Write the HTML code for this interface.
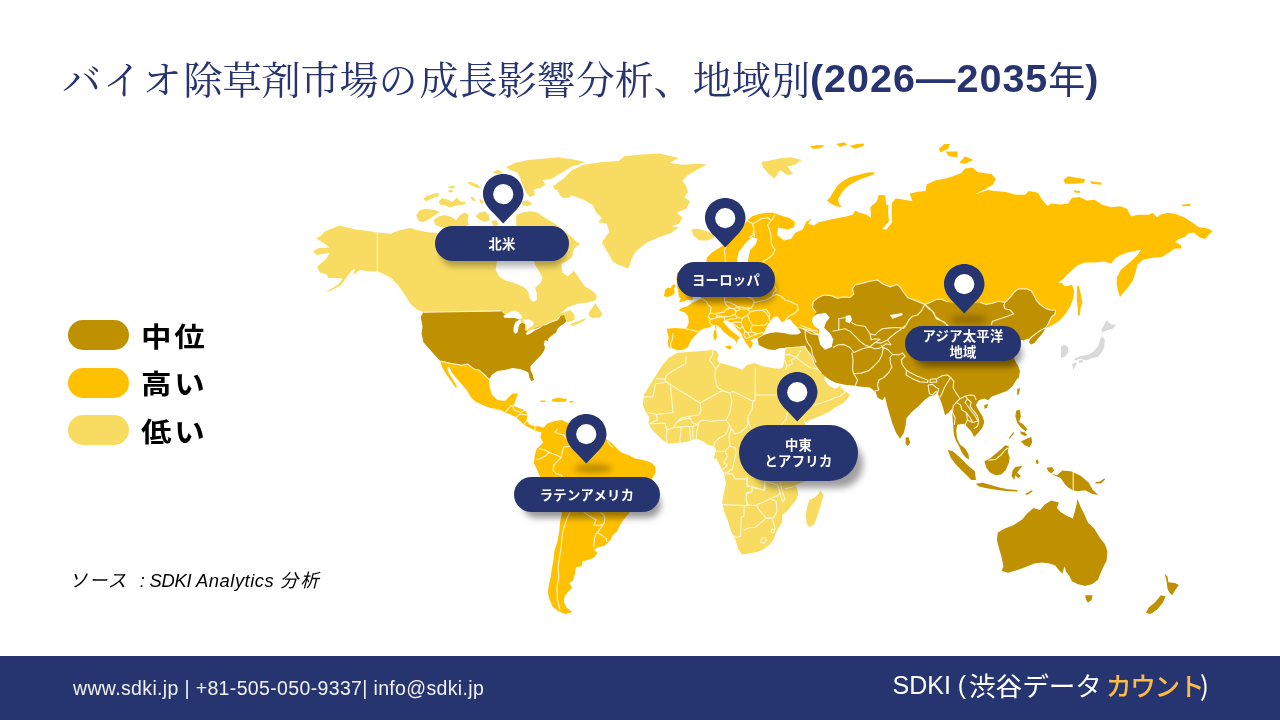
<!DOCTYPE html>
<html lang="ja"><head><meta charset="utf-8"><title>バイオ除草剤市場</title>
<style>
html,body{margin:0;padding:0;background:#fff}
body{width:1280px;height:720px;position:relative;overflow:hidden;font-family:"Liberation Sans","Noto Sans CJK JP",sans-serif}
.map{position:absolute;left:0;top:0}
.title{position:absolute;left:62px;top:52px;margin:0;white-space:nowrap;color:#27346F;font-weight:400;font-size:39.05px;line-height:52px;font-family:"Liberation Serif","Noto Serif CJK JP","Noto Serif CJK SC",serif;letter-spacing:0}
.title b{font-family:"Liberation Sans",sans-serif;font-weight:700;font-size:39.5px;letter-spacing:1px;position:relative;top:-2px}
.title u{text-decoration:none;letter-spacing:1.8px}
.title b i{position:relative;top:1.5px;font-style:normal;font-family:"Noto Sans CJK JP",sans-serif;font-weight:400;font-size:37px;letter-spacing:0}
.lg{position:absolute;left:68px;width:61px;height:30px;border-radius:15px}
.lt{position:absolute;left:141px;font-family:"Noto Sans CJK JP",sans-serif;font-weight:700;font-size:29.6px;line-height:40px;letter-spacing:2.6px;color:#000;transform:scale(1.03,.94);transform-origin:0 0;white-space:nowrap}
.src{position:absolute;left:69px;top:568px;font-size:18.4px;letter-spacing:.78px;line-height:26px;font-style:italic;color:#000;white-space:nowrap;font-family:"Liberation Sans","Noto Sans CJK JP",sans-serif}
.foot{position:absolute;left:0;top:656px;width:1280px;height:64px;background:#263470}
.f1{position:absolute;left:73px;top:19px;color:#F2F2F2;font-size:19.5px;letter-spacing:.35px;line-height:26px;white-space:nowrap}
.f2{position:absolute;left:892.5px;top:11.5px;color:#fff;font-size:25px;line-height:34px;white-space:nowrap;font-family:"Liberation Sans","Noto Sans CJK JP",sans-serif}
.f2 span{position:absolute;top:0}
.f2 .c{font-family:"Noto Sans CJK JP",sans-serif;font-size:26.6px}
.f2 .o{color:#FDBB46;font-size:25.6px;font-weight:500;letter-spacing:-1.3px;top:.5px}
.pill{position:absolute;background:#263470;color:#fff;border-radius:28px;font-family:"Noto Sans CJK JP",sans-serif;font-weight:700;font-size:13.3px;line-height:16px;text-align:center;display:flex;align-items:center;justify-content:center;box-shadow:5px 10px 6px -4px rgba(0,0,0,.4);white-space:nowrap;letter-spacing:.3px}
.pin{position:absolute;overflow:visible}
.psh{position:absolute;width:38px;height:9px;border-radius:50%;background:rgba(70,45,0,.36);filter:blur(3px)}
</style></head><body>
<svg class="map" width="1280" height="720" viewBox="0 0 1280 720">
<path fill="#F8DC62" d="M376.9,232.5 370,231.2 356.2,229.4 347.5,227.5 339.4,225.6 331.2,228.8 325,231.2 321.2,235.6 316.2,238.5 321.9,241.9 326.9,245.6 329.4,247.5 318.8,248.1 313.1,251.2 316.2,255 324.4,253.8 329.4,253.1 326.9,258.1 322.5,261.9 316.9,266.9 320,272.5 326.9,274.4 328.1,278.1 336.2,278.1 342.5,278.8 338.8,283.8 331.2,288.8 325,292.5 332.5,290 341.2,285 346.2,278.1 351.9,270.6 355,268.8 353.1,275 360,270 367.5,271.2 377.5,271.5Z M377.5,232.5 390.6,233.8 400,230 410,228 417,230 426,232 436,233 450,236 500,238 560,240 568.8,237.5 580,243.8 573.8,248.8 572.5,255 571.2,258 566.2,261.2 561.2,263.8 562.5,272.5 567.5,276.2 572.5,272.5 573.8,270.6 576.9,275 581.2,281.2 585,286.2 591.2,290 595.6,293.8 596.9,297.5 595,300.6 587.5,302.5 577.5,303.8 567.5,307.5 560,313.8 565,311.9 570,310 573.8,313.8 575,318.8 572.5,321.2 567.5,321.9 566.2,321.2 563.8,315.6 560,316.2 557.5,319.7 550,322.5 544.4,325.3 535,328.1 529.4,332.8 524.7,330 525.6,324.4 521.9,322.5 520,319.7 512.5,316.9 504,314 501.2,310.9 423.4,312.2 416.9,309.4 410.3,303.8 404.7,294.4 398.1,285 390.6,277.5 381.2,272.8 377.5,271.9Z"/>
<path fill="#FFFFFF" d="M497.5,258 495.6,270 499.4,276.6 505,280.3 514.4,283.1 523.8,286.9 528.4,291.6 529.4,298.1 533.1,301.9 536.9,300 536.9,293.4 535,287.8 540.6,283.1 542.5,277.5 538.8,270.9 535,264.4 533.1,258Z"/>
<path fill="#F8DC62" d="M588.8,312.5 592.5,307.5 595.6,303.1 598.1,307.5 602.5,313.8 600,317.5 592.5,318.1 588.8,316.2Z"/>
<path fill="#BF9000" d="M423.4,312.2 501.2,310.9 504.1,314.1 512.5,316.9 520,319.7 515.3,324.4 514.4,331.9 518.1,325.3 521.9,322.5 525.6,324.4 524.7,330 529.4,332.8 535,328.1 544.4,325.3 550,322.5 557.5,319.7 560.3,315.9 564.1,315 566.2,321.2 563.8,323.8 560,326.2 557.5,328.8 556.2,332.5 552.5,335 548.8,338.1 547.5,341.2 545,340 543.8,343.8 545,347.5 543.8,351.2 541.2,355 537.5,358.8 533.8,362.5 530.5,366.2 530.5,370 532.8,375 534,380 531.2,381.2 529.4,377.5 528.4,372.8 525.6,370.9 520,369.1 512.5,368.1 505,370 497.5,370.9 491.9,374.7 489.1,379.4 484.4,374.7 478.8,370 474.1,369.1 467.5,364 461.9,365.3 450.6,363.4 440.3,361 434.7,355 428.1,347.5 423.4,342.2 421.6,333.8 422.5,326.2 420.6,316.9Z"/>
<path fill="#FFC000" d="M440.3,361 450.6,363.4 461.9,365.3 467.5,364 474.1,369.1 478.8,370 484.4,374.7 489.1,379.4 489.6,386.9 491.9,394.4 497.5,400 505,400.9 509.7,396.3 512.5,393.4 518.1,393.4 516.3,398.1 514.4,403.8 512.5,405.6 520,408.4 525.6,410.3 527.5,415 526.6,420.6 529.4,424.4 535,426.3 538.8,426.3 542.5,427.2 545.3,429.1 540.6,432.3 535,430.4 529.4,427.8 523.8,424.8 520,421 516.3,417.3 510.6,414.4 505,412.6 502.2,410.7 495.6,408.8 490,407.9 482.5,405.1 475,401.3 470.3,396.6 467.5,391 461.9,384.4 456.3,377.9 451.6,372.3 449.1,366.3 446.9,368.1 449.7,374.7 453.4,380.3 457.2,386.9 455.3,387.3 450.6,380.3 445.9,373.8 442.2,367.2Z M551.9,399.6 557.5,397.8 566.9,399.1 565.9,401.5 557.5,401.9 552.3,401.5Z M540.6,400.4 545.3,400.4 545.3,401.9 540.6,401.9Z M569.7,400.9 573.4,400.9 573.4,402.4 569.7,402.4Z M542.2,429.4 546.9,423.8 554.4,420.9 561.9,420 567.5,422.8 580,424 595,428 603,436 606.9,439.7 612.5,443.4 617.2,449.1 621.9,452.8 629.4,455.6 635,458.4 644.4,460.3 651.9,463.1 655.6,466.9 655.6,472.5 652.8,477.2 648,488 643,497 638,505 629.4,512.8 623.8,519.4 620,525 617.2,531.6 612.5,535.3 610.6,540 605,545.6 597.5,547.5 593.8,549.4 597.5,553.1 593.8,557.8 588.1,559.7 582.5,561.6 581.6,566.2 575.9,567.2 575,573.8 573.1,580.3 569.4,583.1 572.2,587.8 568.4,591.6 564.7,596.2 563.8,601.9 566.6,607.5 572.2,612.2 565.6,614.1 558.1,611.2 552.5,606.6 549.7,600 547.8,592.5 548.8,585 550.6,577.5 551.6,570 553.4,560.6 554.4,551.2 557.2,541.9 559.1,532.5 560,523.1 561.9,512.8 555,502 548,492 543,482 540.3,477.2 536.6,468.8 533.8,463.1 534.7,455.6 536.6,449.1 543.1,442.5 540.3,436.9Z"/>
<path fill="#F8DC62" d="M553.1,186.3 564.4,177.8 571.9,170.3 583.1,164.7 601.9,161.9 618.8,160.9 624.4,156.3 641.3,154.4 660,153.4 678.8,158.1 669.4,162.8 682.5,164.7 699.4,163.8 706.9,164.7 697.5,169.4 688.1,175 682.5,180.6 686.3,186.3 688.1,191.9 684.4,197.5 690,201.3 686.3,208.8 676.9,212.5 682.5,218.1 678.8,223.8 671.3,226.6 678.8,227.5 671.3,233.1 660,236.9 646.9,242.5 637.5,250 630,259.4 633.8,255 631.2,260 630,265 627.5,268.8 622.5,266.2 617.5,264.4 612.5,261.2 610,256.2 606.2,250 603.8,245 601.9,238.8 604.7,251.9 601.9,242.5 605.6,236.9 609.4,231.3 606.6,223.8 598.1,221.9 601.9,218.1 596.3,212.5 592.5,205 583.1,199.4 571.9,195.6 560.6,195.6 556.9,190Z M506.2,166.9 516.2,162.5 528.8,160 541.2,158.8 553.8,158.1 570,158.8 576.2,160 585,161.9 577.5,165 570,166.9 563.8,168.1 557.5,171.9 550,176.2 542.5,180 545,183.8 540,187.5 533.8,190 535,195 530,196.9 526.2,192.5 522.5,185 520,177.5 517.5,172.5 510,170Z M492.5,172.5 497.5,169.4 502.5,172.5 497.5,174.4Z M466.9,182.5 471.2,181.9 477.5,184.4 481.2,188.1 477.5,188.1 471.2,185.6Z M447.5,186.9 453.1,185.6 455.6,187.5 451.2,188.8Z M448.1,190.6 452.5,190 453.1,191.9 448.8,192.5Z M423.1,198.8 427.5,195.6 433.8,193.8 439.4,193.1 438.1,196.2 432.5,198.1 426.2,201.2Z M438.8,201.2 442.5,198.1 447.5,199.4 452.5,201.9 456.9,197.5 460,201.2 465.6,201.9 465,204.4 457.5,205 450,207.5 445,205.6 440,204.4Z M470,196.9 473.8,197.5 476.2,201.2 472.5,200.6Z M479.4,198.8 483.8,201.2 483.1,204.4 480,202.5Z M416.2,215 420,210 426.2,208.8 435,210 440,211.9 435,215 430,218.8 423.8,221.9 418.8,221.2Z M433.8,220 438.8,216.2 445,215 451.2,216.9 456.2,220 460,215 465,212.5 468.8,215 467.5,220 468.8,225 460,227.5 451.2,227.5 441.2,227.5 435,224.4Z M475.6,216.2 480,212.5 485,211.2 488.8,215 490,220 485,221.9 480,220Z M491.2,221.2 496.2,220 498.8,225 493.8,226.2Z M516.2,215 522.5,212.5 530,211.2 537.5,212.5 542.5,216.2 548.8,220 555,223.8 560,227.5 566.2,232.5 572.5,237.5 577.5,243.8 570,247.5 560,240 547.5,235 522.5,232.5 516.2,227.5Z M552.5,186.2 560,182.5 570,181.2 576.2,183.1 572.5,190 570,197.5 563.8,198.1 558.8,195 563.8,191.2 555,189.4Z M521.2,201.2 527.5,200.6 532.5,203.8 527.5,206.2 522.5,205Z M540,159.1 558.8,157.2 579.4,160.9 571.9,166.6 562.5,172.2 551.3,178.8 540,180.6 534.4,176.9 534.4,161.9Z M538.1,182.5 545.6,184.4 540,188.5 536.2,187.2Z"/>
<path fill="#FFFFFF" d="M503.1,316.2 507.5,313.1 513.8,310.6 518.8,312.5 522.5,316.9 520,319.4 515,318.1 510,318.1 505,318.1Z M513.8,326.2 515.6,321.9 518.8,320 521.2,321.2 518.8,326.2 517.5,332.5 515,333.8 513.5,331.2Z M522.5,319.4 528.8,319.4 533.8,321.9 532.5,326.2 529.4,327.5 526.9,330 526.2,325.6 524.4,322.5Z M525.6,333.1 530,330.6 535,328.8 538.8,327.5 543.8,325.6 540,328.1 535,330.6 530,333.8 526.9,335Z"/>
<path fill="#F8DC62" d="M570,324.4 575,321.9 580,320.6 585.6,318.1 585,320 578.8,323.8 572.5,326.2Z"/>
<path fill="#FFC000" d="M668.8,347.5 667.5,342.5 668.8,337.5 667.5,333.1 666.9,328.8 675,328.1 685,328.8 686.2,328.8 688.8,322.5 688.1,316.2 685,312.5 678.8,310.6 681.2,308.1 687.5,306.2 692.5,302.5 697.5,300.6 701.2,298.8 700,290 704,280 707,272 706,265 706.9,257.5 712.5,251.9 721.9,246.2 735,236.9 740.6,229.4 746.2,221.9 751.9,216.2 761.2,213.4 772.5,212.5 780,215.3 789.4,218.1 795,221.9 794,227.5 787.5,229.4 778.1,227.5 777.2,235 783.8,240.6 791.2,238.8 795,233.1 802.5,229.4 806.2,221.9 811.9,218.1 808.1,223.8 813.8,225.6 819.4,221.9 828.8,220 838.1,218.1 847.5,216.2 853.1,214.4 855,210.6 858.8,212.5 866.2,214.4 871.2,218.1 870.3,206.9 876.9,201.2 878.8,194.7 885.3,195.6 886.2,205 890.9,204.1 895.6,198.4 903.1,199.4 912.5,201.2 909.7,193.8 916.2,191.9 925.6,190.9 926.6,184.4 935,180.6 944.4,178.8 953.8,175.9 961.2,173.1 965,168.4 972.5,167.5 978.1,172.2 991.2,174.1 995.9,178.8 993.1,184.4 985.6,189.1 978.1,192.8 974.4,194.7 987.5,190 995,190.9 1006.2,191.9 1015.6,194.7 1025,194.7 1028.8,190.9 1038.1,192.8 1041.9,199.4 1047.5,205.9 1051.2,203.4 1060.6,204.4 1068.1,203.4 1071.9,197.8 1079.4,196.9 1086.9,200.6 1094.4,199.7 1101.9,204.4 1111.2,207.2 1120.6,206.2 1127.2,209.1 1130,214.7 1131.9,216.6 1137.5,214.7 1148.8,214.7 1152.5,212.8 1157.2,217.5 1160,214.7 1167.5,212.8 1175,213.8 1184.4,217.5 1191.9,222.2 1198.4,226.9 1203.1,227.8 1208.8,228.8 1212.5,231.6 1208.8,234.4 1205,239.1 1199.4,237.2 1193.8,232.5 1188.1,233.4 1184.4,237.2 1178.8,239.1 1175,241.9 1180.6,244.7 1181.6,248.4 1175,248.4 1169.4,252.2 1161.9,256.9 1152.5,257.8 1143.1,259.7 1137.5,264.4 1135.6,271.9 1133.1,280 1129.4,285.6 1124.7,291.2 1120,296.9 1118.1,291.2 1116.6,284 1116.9,277.5 1120.6,270 1126.2,265.3 1131.9,260.6 1137.5,255 1141.2,249.4 1133.8,251.2 1128.1,252.2 1120.6,255 1115,258.8 1111.2,263.4 1103.8,261.6 1094.4,262.5 1085,262.5 1077.5,265.3 1070,271.9 1062.5,279.4 1058.1,282.8 1061.9,282.8 1064.7,286.6 1072.2,284.7 1074.1,291.2 1073.1,298.8 1070.3,306.2 1065.6,313.8 1060,320 1055,323.8 1050,326.2 1045,328.8 1040,322 1030,310 1000,312 960,314 900,312 860,305 835,312 822,345 797.5,327.5 796.2,326.2 792.5,322.5 790,318.8 785,320.6 781.9,322.5 780,319.4 777.5,316.2 773.8,316.9 770,321.2 766.2,327.5 763.8,333.8 760,336.2 758.8,337.5 756.2,338.2 752.8,339 750.2,340.2 752.8,342.5 752,346.2 750.2,349 747.5,345 745,341.2 742.8,337.5 741,333.1 737.5,329.4 733.8,325.6 730.6,322.5 728.1,321.2 725,320.4 723.1,321.5 726,325.2 729.4,329 733.1,332.2 736.9,335 740.2,338.1 738.1,339 737.2,341.9 735.6,345.2 736.5,341.9 733.8,339 728.8,336 723.8,331.9 720,327.5 716.2,324.8 712.5,325.6 710,326.9 706.2,328.1 701.2,329.4 698.8,331.9 694.4,336.2 691.2,340 689.4,343.8 687.5,347.5 683.8,349.4 677.5,350.6 673.8,348.8Z M678.5,293 677,287 676.5,279 677,273 680,271 684,276 685,283 690,290 693.5,296 692.5,300 686.7,300 683.3,301.7 679.2,302 680.8,298.8 678.8,296.7Z M663.8,296.2 665.4,289.2 667.9,287.5 670.8,287.9 672.5,285 675,284.2 675.8,286.2 674.2,288.3 674.6,293.3 671.7,295.4 667.9,297.1Z M826.9,200.6 830,197.5 833.8,191.2 837.5,185.6 842.5,181.2 850,176.9 860,174.4 867.5,172.5 875,172.2 872.5,175 865,177.5 857.5,180.6 850,184.4 845,188.8 841.2,193.8 838.1,198.8 838.8,203.8 841.9,206.9 836.2,206.2 831.2,203.8Z M810,146.5 817.5,145 825,145.4 819.4,148.4 812.8,148.8Z M836.3,144.1 843.8,142.2 847.5,144.6 840,146.9Z M849.4,145.9 856.9,144.1 864.4,143.5 863.5,145.9 855,148.8Z M938.8,148.8 944.4,144.1 950,144.1 948.1,148.8 940.6,152.5Z M945.3,151.6 957.5,151.6 957.5,157.2 949.1,156.3Z M959.4,162.8 965,156.3 973.4,160 965,163.8Z M1063.4,180 1068.1,176.3 1077.5,178.1 1085,179.1 1084.1,182.8 1073.8,183.8 1065.3,183.8Z M1089.7,180.9 1101.9,182.8 1100.9,184.7 1091.6,183.8Z M1073.8,190.3 1080.3,191.3 1079.4,193.1 1074.7,192.4Z M1181.6,204.8 1190,203.8 1190.9,205.7 1182.5,206.3Z M1076.9,286.6 1078.8,285.6 1080.6,293.1 1082.5,302.5 1080.6,308.1 1079.7,315.6 1077.8,315.6 1077.8,308.1 1076.9,300.6Z"/>
<path fill="#F8DC62" d="M761.3,161.9 772.5,160 781.9,158.1 791.3,157.2 801.6,160 795,164.7 787.5,166.6 793.1,174.1 787.5,175 780,170.3 774.4,178.8 768.8,174.1 763.1,167.5Z M690.9,229.4 697.5,228.4 706.9,231.3 713.4,234.1 714.4,237.8 706.9,240.6 699.4,240.6 693.8,235.9Z"/>
<path fill="#FFFFFF" d="M888.1,197.5 892.8,196.6 891.9,204.1 891.5,212.5 892.3,221.9 886.3,229.4 882.5,229 889.1,220.9 888.1,212.5 888.5,204.1Z M751.9,236.9 757.5,238.8 755.6,244.4 750,250 748.1,259.4 746.3,272.5 738.8,272.5 736.9,259.4 738.8,251.9 744.4,244.4Z"/>
<path fill="#F8DC62" d="M669.1,357.5 677.5,352.8 688.8,351.9 701.9,350.9 711.2,350 716.9,350.9 718.8,355.6 716.9,360.3 720.6,363.1 728.1,365 737.5,367.8 742.2,369.7 746.9,365 754.4,363.1 761.9,365.9 771.2,367.8 778.8,368.8 783.4,367.8 787,376 792,390 798,405 803,418 806,426 826,431 836,438 834,450 824,468 810,480 795.3,485 797.2,488.8 798.1,494.4 796.2,500 791.6,505.6 786.9,511.2 782.2,515 782.2,522.5 778.4,528.1 775.6,533.8 773.8,539.4 770,544 764.4,548.8 758.8,551.6 749.4,553.4 741.9,554.4 738.1,548.8 735.3,539.4 730.6,530 727.8,520.6 724,511.2 722.2,501.9 724,492.5 726,483 724,473.8 720.3,466.2 716.5,458.8 713.8,458.8 715,453.8 716.2,450 713.8,446.2 708.1,445 703.8,441.9 698.8,439.4 693,439.6 686.9,441.9 677.5,442.8 668.1,443.8 662.5,440 656.9,434.4 651.2,428.8 648.4,423.1 649.4,417.5 645.6,411.9 642.8,404.4 643.8,395 648.4,387.5 653.1,380 657.8,372.5 662.5,365Z M820.6,490.6 823.4,495.3 821.6,501.9 819.7,508.8 816.9,516.9 814.1,524.4 809.4,527.2 806.6,523.4 805.6,515 807.5,505.6 809.4,500 815,497.2 818.8,493.4Z M785,352.5 786,344 812,344 828,374 823.8,377.5 826.2,382.5 830,386.2 835,388.8 838.1,387.5 840,385 842.5,388.8 847.5,392.5 850,395 847.5,398.8 843.8,402.5 840,405 835,407.5 830,411.2 822.5,415 815,418.1 810,420 805,422 800,410 792,395 786,380 783,370 781.2,368.8 783.1,366.2 784.4,360Z"/>
<path fill="#BF9000" d="M757.5,338.8 763.8,335 770,333.1 776.2,332.2 783.8,333.1 790,334.4 797.5,334.4 801.2,332.5 799,329.5 797.5,327.5 803.8,328.8 810,330.6 815,333.1 819.5,334.4 813.4,317.5 816.2,312.5 812.5,307.5 813.1,301.9 817.5,298.1 823.8,295 831.2,295.6 837.5,298.1 843.8,296.9 850,297.5 853.8,293.8 852.5,288.8 855,285 862.5,283.1 870,281.2 877.5,280 882.5,283.8 890,286.9 896.9,284.4 900,286.9 903.8,292.5 907.5,297.5 912.5,299.4 918.8,301.9 925,304.4 930,302.5 936.2,299.4 942.5,299.4 947.5,301.9 960,304 970,304 980,302.5 986.2,304.4 992.5,303.1 998.8,301.2 1005,302.5 1007.5,300 1011.2,296.2 1015,291.2 1018.8,288.8 1026.2,288.8 1031.2,290.6 1033.8,295 1036.2,300 1040,304.4 1045,308.1 1050,310 1055.6,310 1055,313.8 1051.2,317.5 1049.4,321.2 1047.5,325 1045,328.8 1043.1,332.5 1040,336.2 1036.9,340 1034.4,343.1 1031.2,344.4 1028.8,341.9 1030,339.4 1027.5,338.8 1023.8,340.6 1021.2,340 1016,350 1014,358 1015.9,362.5 1018.1,365.6 1020,371.2 1018.8,377.5 1017.2,378.8 1012.5,386.2 1006.9,390.9 999.4,393.8 991.9,396.6 988.1,400.3 984.4,398.4 978.8,400.3 975.9,405 978.8,410.6 982.5,416.2 984.4,421.9 982.5,427.5 978.8,432.2 974.1,436.9 971.2,431.2 967.5,427.5 963.8,423.8 957.2,424.7 956.2,431.2 957.2,438.8 960,444.4 964.7,448.1 968.4,453.8 969,459.4 965.6,457.5 961.9,452.8 959.1,446.2 955.9,440.6 954,435 953.1,425.6 952.5,416.2 951.6,408.8 948.8,412.5 945,415.3 944.1,411.6 942.2,405 939.4,397.5 937.5,392.8 933.8,395.6 929.1,396.6 924.4,400.3 918.8,405.9 911.2,412.5 906.6,418.1 905.6,425.6 903.8,433.1 900,438.8 896.2,433.1 892.5,423.8 889.7,414.4 886.9,405 885,396.6 882.2,400.3 877.5,397.5 875.6,391.9 870,387.5 863.8,386.9 857.5,386.2 852.5,385.6 846.2,385 840,383.8 835,382.5 830,380 825,376.2 821.2,373.1 818.8,370 815,365 812.5,358.8 810,353.8 806.2,348.8 805,346.2 800,346.9 792.5,347.5 785,348.1 780,348.1 775,350 768.8,349.4 763.8,347.5 758.8,345 758.1,341.2Z"/>
<path fill="#FFFFFF" d="M812.8,316.9 817.5,314.1 825.9,313.1 829.7,317.8 825.9,322.5 824.1,328.1 829.7,332.8 833.4,339.4 831.6,346.9 825,349.7 820.3,345 818.4,337.5 819.4,330 814.7,326.2 811.9,321.6Z M845.6,315.9 850.3,315 852.2,319.7 849.4,323.4 845.6,321.6Z M889.7,315 901.9,313.1 902.8,315 892.5,318.8Z"/>
<path fill="#BF9000" d="M984.4,405 988.1,404.1 987.2,407.8 984.4,408.8Z M1017.2,389.1 1020,388.1 1019.1,393.8 1017.2,395.6Z M905.6,437.8 908.4,436.9 910.3,442.5 907.5,446.3 905.6,443.4Z M947.8,450 952.5,450.9 960,457.5 967.5,465 975,471.6 975.9,480 971.3,480 963.8,472.5 956.3,465 950.6,457.5Z M975.9,483.8 982.5,482.8 990,484.7 999.4,487.5 1008.8,489.4 1008.8,491.3 999.4,490.3 988.1,488.4 978.8,486.6Z M984.4,461.3 990,458.4 995.6,453.8 1001.3,449.1 1005,445.3 1008.8,446.3 1007.8,451.9 1009.7,457.5 1008.8,463.1 1005.9,469.7 1001.3,474.4 995.6,475.3 990,472.5 986.3,467.8Z M1012.5,470.6 1015.3,466.9 1022.8,465.9 1020,468.8 1017.2,472.5 1020.9,476.3 1018.1,478.1 1015.3,475.3 1014.4,480 1011.6,476.3Z M1016.3,410.6 1020,409.7 1020.9,416.3 1019.1,421.9 1022.8,423.8 1027.5,429.4 1025.6,431.3 1020.9,427.5 1017.2,422.8 1015.3,416.3Z M1020.9,441.6 1026.6,438.8 1031.3,436.9 1032.2,442.5 1029.4,447.2 1024.7,445.3Z M1020,431.3 1024.7,432.2 1027.5,435 1024.7,435.9 1020.9,434.1Z M1008.8,437.8 1013.4,432.2 1014.4,433.1 1009.7,438.8Z M1035.9,460.3 1037.8,459.4 1038.8,463.1 1036.9,464.1Z M1004.4,489 1010.9,489.4 1017.5,490.1 1017.5,491.6 1010,491.3 1004.4,490.5Z M1025,494.1 1031.6,490.3 1032.9,491.3 1026.9,495Z M1046.6,467.8 1052.2,466.9 1054.1,470.6 1051.3,473.4 1056.9,475.3 1062.5,470.6 1071.9,471.6 1081.3,476.3 1088.8,482.8 1092.5,489.4 1098.1,495 1092.5,494.1 1085,490.3 1077.5,491.3 1072.8,490.3 1068.1,487.5 1065.3,484.7 1060.6,478.1 1054.1,475.3 1048.4,471.6Z M1095.3,481.9 1100,481.5 1104.1,478.5 1105.3,479.6 1100.9,483.4 1095.9,483.4Z M1036.3,460.3 1038.5,461.3 1037.8,464.1 1035.9,463.1Z M997.8,532.5 1004.4,528.8 1013.8,525 1022.2,519.4 1026.9,513.8 1033.4,508.1 1040,510 1044.7,504.4 1051.2,500.6 1058.8,502.5 1056.9,508.1 1060.6,511.9 1068.1,516.6 1072.8,518.4 1074.7,511.9 1076.6,504.4 1077.5,498.8 1080.3,506.2 1084.1,513.8 1087.8,522.2 1094.4,528.8 1100,538.1 1104.7,543.8 1107.5,551.2 1106.6,560.6 1101.9,570 1098.1,579.4 1092.5,584.1 1085,585.9 1077.5,584.1 1071.9,581.2 1069.1,575.6 1066.2,571.9 1064.4,566.2 1062.5,573.8 1058.8,570 1055,565.3 1049.4,563.4 1041.9,562.5 1034.4,563.4 1025,567.2 1017.5,570 1008.1,572.8 1001.6,570.9 1003.4,566.2 1001.6,556.9 998.8,547.5 996.9,540Z M1085,595.3 1092.5,595.3 1091.6,600 1087.8,602.8 1085.9,599.1Z M1164.7,573.8 1167.5,576.6 1168.4,582.2 1175,583.1 1178.8,585 1175,590.6 1172.2,595.3 1169.4,592.5 1167.5,588.8 1166.6,581.3Z M1160.9,595.3 1165.6,596.3 1162.8,602.8 1157.2,609.4 1150.6,614.1 1145.9,613.1 1148.8,607.5 1155.3,601.9Z"/>
<path fill="#D9D9D9" d="M1101.3,329.7 1106.9,320.3 1110.6,324.1 1116.3,325 1112.5,328.8 1106.9,330.6 1102.2,332.5Z M1102.2,336.3 1105,340 1104.1,347.5 1101.3,353.1 1097.5,356.9 1090,358.8 1086.3,360.6 1080.6,358.8 1075,360.6 1074.1,358.8 1080.6,355.9 1088.1,355 1093.8,351.3 1098.4,345.6 1100.3,339.1Z M1072.2,363.4 1076.9,362.5 1075,367.2 1073.1,370Z M1078.8,360.6 1083.4,359.7 1082.5,362.5 1079.1,362.9Z M1060.9,346.6 1064.7,344.7 1068.4,347.5 1067.9,353.1 1064.7,356.9 1060.9,357.8Z"/>
<path fill="#FFC000" d="M725,346.2 730,345.6 731.9,347.5 730,349.4 726.2,348.1Z M713.8,330.6 716.2,330 716.9,337.5 715,340.6 713.5,337.5Z M715,325.6 716.3,325 716.5,328.8 715.2,328.8Z"/>
<path fill="none" stroke="#FFF7DC" stroke-opacity=".92" stroke-width="1.15" stroke-linejoin="round" d="M686.2,356.2 685.6,363.8 677.5,368.1 671.2,371.9 666.2,375.6 665,381.2 M656.2,378.8 665,378.8 M643.1,396.9 652.5,396.9 653.8,392.5 655.6,383.8 665,382.5 M665,381.2 700,403.1 M670.6,386.2 671.2,395 673.1,412.5 656.2,414.4 647.5,412.5 M700,403.1 722.5,390.6 M722.5,390.6 717.5,387.5 715,377.5 715.6,368.8 712.5,363.8 709.4,360 712.5,355 713.1,350.6 M715.6,368.8 720,363.8 718.1,359.4 M722.5,390.6 730,393.1 732.5,391.2 753.1,401.2 755,400 755.6,367.5 M755.6,395 777.5,395 M730,393.1 731.9,401.2 730,412.5 726.2,420 M753.1,401.2 751.9,410 748.1,416.2 747.5,422.5 751.2,427.5 M700,403.1 701.2,410 698.8,415 688.8,416.2 681.2,418.1 676.2,422.5 673.8,427.5 M701.2,420 710,421.2 717.5,420.6 726.2,420 M688.8,416.2 692.5,422.5 697.5,425 701.2,420 M656.2,414.4 657.5,420 649.4,423.8 M649.4,423.8 665,423.1 666.9,430 M787.5,412.5 786.2,418.8 781.2,425 M652.5,423.8 665,423.1 666.9,430 666.2,437.5 667.5,443.8 M666.9,430 673.8,427.5 676.2,422.5 682.5,419.4 690,418.1 M681.2,427.5 680,441.9 M689.4,426.9 690.6,440 M692.5,426.9 693.1,439.4 M698.8,422.5 696.9,431.2 696.2,439.4 M673.8,427.5 681.2,426.9 689.4,426.2 692.5,426.9 697.5,423.8 M726.2,420 729.4,425 727.5,431.2 725,435 720,437.5 715,441.9 713.8,446.2 M729.4,425 731.2,428.8 728.8,437.5 730,446.2 735,447.5 M731.2,428.8 735,433.8 740,432.5 746.2,427.5 748.8,422.5 747.5,417.5 M716.2,451.2 725,451.2 730,446.2 M725,451.2 727.5,456.2 723.8,462.5 727.5,465 722.5,470 M735,447.5 736.2,452.5 733.8,462.5 732.5,468.8 727.5,472.5 723.1,472.5 M725,473.8 732.5,473.8 735,478.8 746.2,478.8 747.5,485 752.5,487.5 751.2,492.5 746.2,493.8 746.9,505 M752.5,487.5 763.8,490 765,481.2 777.5,485 781.2,496.2 M721.2,504.4 744.4,505.6 756.2,505 M747.5,475 746.9,486.2 752.5,486.9 751.9,491.9 746.9,492.5 746.2,500 748.1,505 M752.5,486.9 765,490.6 765,482.5 M744.4,505.6 743.8,516.2 741.2,517.5 740.6,536.2 736.2,537.5 733.1,535.6 M743.8,530 750,527.5 755,527.5 761.2,522.5 766.2,518.1 M756.2,505 760,511.2 766.2,518.1 772.5,518.8 774.4,526.2 775,530 M756.2,505 762.5,502.5 770,498.8 776.2,501.2 776.9,511.2 773.8,517.5 766.2,518.1 M777.5,483.8 780,493.8 782.5,501.9 785,498.8 783.1,493.8 780,482.5 M785,488.8 796.2,486.2 M770,498.8 777.5,495.6 780,493.8 M760.6,540 762.5,537.5 765.6,538.1 766.2,540.6 763.8,543.1 761.2,542.5 760.6,540 M771,530.6 772.5,529 774.4,530 774,532.2 771.9,532.5 771,530.6 M673.1,333.1 672.5,338.8 670.6,343.8 671.2,348.1 M686.2,328.8 692.5,330.2 698.8,331.9 M701.2,298.8 706.2,301.2 708.1,305 711.2,307.5 710,313.1 708.1,316.2 710,319.4 709.4,322.5 712.5,325.6 M710,313.1 715,313.8 717.5,315.6 715,318.1 710,319.4 M725,296.9 724.4,301.2 726.2,305 730,308.1 726.2,309.4 724.4,311.9 715,313.8 M724.4,301.2 730,302.5 735,305 737.5,306.9 733.8,308.8 730,308.1 M717.5,315.6 723.8,316.9 730,316.2 735,314.4 736.2,311.2 733.8,308.8 M715,318.1 720,316.9 723.8,316.9 725,320.6 M730,296.2 747.5,296.9 752.5,298.8 754.4,302.5 751.2,308.1 745,307.5 740,306.9 737.5,306.9 M737.5,306.9 740,309.4 747.5,308.8 751.2,308.1 M736.2,311.2 740,309.4 M735,314.4 737.5,317.5 742.5,318.1 747.5,315 750,311.9 747.5,308.8 M754.4,302.5 760,301.2 766.2,300 772.5,296.2 776.2,294.4 781.2,296.2 785,300 791.2,301.9 797.5,305 798.1,310 793.8,313.8 788.8,316.2 785,320.6 M772.5,296.2 773.8,292.5 776.2,290 775,286.2 M750,311.9 755,310.6 762.5,310 766.2,313.1 768.8,317.5 770,321.2 M752.5,325 758.8,325.6 765,325 767.5,322.5 M747.5,315 750,321.2 752.5,325 750.6,328.8 751.9,331.9 757.5,333.8 762.5,332.5 763.8,334.4 M762.5,310 766.2,309.4 770,315 768.8,317.5 M725,320.6 730,319.4 735,318.8 737.5,317.5 M731.2,322.5 737.5,321.9 741.2,322.5 742.5,326.2 740,328.8 735,325 731.2,322.5 M742.5,318.1 741.2,322.5 M742.5,326.2 745,331.2 747.5,332.5 751.9,331.9 M745,331.2 743.8,335 746.2,338.8 750,336.9 747.5,332.5 M750,336.9 757.5,333.8 M746.9,220.6 752.5,223.8 753.8,228.8 753.1,235 748.8,237.5 M726.2,246.2 724.4,250 725,256.2 725.6,261.9 M752.5,223.8 757.5,221.2 761.2,218.8 767.5,217.5 771.2,220.6 M753.8,228.8 754.4,236.2 755,237.5 M775,215 773.8,216.9 771.2,220.6 767.5,225 770,231.2 771.2,237.5 771.2,243.8 775,250 772.5,255 767.5,258.8 762.5,261.9 M838.8,330 838.8,318.8 845.6,317.5 M851.2,322.5 856.2,325 865,326.2 867.5,330 870,333.8 875,335 878.8,331.2 882.5,328.8 887.5,328.1 895,327.5 903.8,328.1 906.2,325 908.8,320 912.5,316.2 917.5,315 921.2,311.2 923.1,307.5 925,304.4 M832.5,331.2 838.8,330 845,328.8 850,331.2 855,336.2 860,341.2 865,345 870,346.9 M833.1,347.5 837.5,345 843.8,344.4 850,347.5 853.8,352.5 862.5,348.8 870,346.9 M870,333.8 871.2,340 875,338.8 880,339.4 875,342.5 871.9,345 870,346.9 M906.2,325 900,330 896.2,332.5 890,337.5 887.5,340 M875,342.5 881.2,343.1 887.5,340 891.2,345 M870,346.9 875,348.8 880,348.1 886.2,343.8 891.2,345 M800,327.5 805,330 805.6,337.5 807.5,342.5 811.2,347.5 812.5,355 816.2,362.5 M800,325 806.2,327.5 812.5,330 818.8,331.2 M805,330 811.2,333.8 818.8,335 820,337.5 M925,304.4 930,308.8 933.8,312.5 936.2,318.8 942.5,321.2 947.5,325 950,328.8 M851.9,352.5 853.1,360 852.5,368.8 853.8,373.8 857.5,380 855,386.2 M853.8,373.8 861.2,373.1 868.8,370.6 873.8,366.2 878.8,361.2 881.9,355 883.1,348.8 881.2,345 M892.5,354.4 890,357.5 890.6,363.8 891.9,366.9 888.8,372.5 883.8,377.5 878.8,380 877.5,385 878.8,390 874.4,391.2 M883.1,347.5 887.5,349.4 892.5,354.4 898.8,355 902.5,353.1 905,356.2 901.2,360 902.5,365 906.2,370 910,372.5 917.5,376.2 927.5,380 M906.2,370 906.2,375 912.5,378.8 920,381.9 927.5,382.5 928.1,380 M930,379.4 936.2,378.8 936.9,381.9 930,382.5 930,379.4 M936.9,378.8 942.5,375.6 947.5,375 950.6,377.5 M928.1,385 932.5,384.4 936.2,387.5 938.8,388.8 937.5,393.8 936.2,391.2 932.5,395 929.4,393.8 928.1,385 M950.6,377.5 947.5,382.5 944.4,387.5 942.5,392.5 940,397.5 M950.6,377.5 953.8,381.2 953.1,387.5 955,391.2 957.5,395 960,398.8 M960,398.8 956.2,402.5 953.1,406.2 952.5,412.5 955,417.5 954.4,425 M960,398.8 965,396.2 967.5,398.8 965,402.5 968.8,407.5 972.5,412.5 976.2,417.5 977.5,421.2 972.5,422.5 970,417.5 966.2,412.5 961.9,410 960.6,405 956.2,402.5 M965,396.2 970,395 974.4,395.6 976.2,400 M967.5,398.8 971.2,402.5 970,406.2 974.4,411.9 977.5,416.2 978.8,421.2 977.5,426.2 973.8,428.8 M966.2,412.5 967.5,420 972.5,422.5 M967.5,420 965,425 968.8,430 M925,304.4 928.8,308.8 932.5,311.2 935,316.2 940,320 945,322.5 946.9,325.6 M991.2,325 992.5,321.2 1000,318.8 1007.5,316.2 1013.8,313.8 1010,310 1005,308.8 1003.8,305 1005,302.5 M1045,328.1 1041.2,330 1037.5,332.5 1032.5,336.2 1028.8,340 M557.5,428.8 555,432.5 558.8,433.8 563.8,435 566.2,438.8 M538.8,448.8 545,450 549.4,452.5 556.2,455 561.2,457.5 562.5,451.2 563.8,446.9 570,446.2 M535.6,460 540,458.8 545,456.2 549.4,452.5 M561.2,457.5 557.5,461.2 553.8,465 553.1,470 556.2,473.8 561.2,475 562.5,477.5 M607.5,441.2 610,445 613.1,447.5 M570,512.5 567.5,517.5 563.8,527.5 561.9,537.5 561.2,547.5 559.4,557.5 558.1,567.5 558.8,577.5 556.9,587.5 557.5,600 560,610 M583.8,512.5 590,516.2 596.2,520 593.8,525 598.8,525.6 603.8,523.8 605,518.8 603.8,515 600.6,512.5 M603.8,523.8 600,528.8 596.2,533.8 594.4,538.8 593.8,546.9 M597.5,533.1 602.5,535.6 606.2,538.8 606.9,541.9 M377.4,232.8 377.4,271.5 381.2,274 387.5,276.9 393.1,281.9 398.8,288.1 402.5,292.5 M1073.2,472.1 1073.2,490.3 M988.1,460.3 995.6,459.4 1001.3,454.7 1005,450 1007.8,448.1 M784.4,360 786.9,366.2 785,370 M786.9,366.2 792.5,363.8 791.2,360 796.2,357.5 801.2,350 M796.2,357.5 802.5,362.5 810,367.5 816.2,368.8 818.8,370 M815,405 822.5,402.5 830,400 835,397.5 840,396.2 845,392.5 843.8,388.8 840,387.5 M785,355 790,354.4 796.2,357.5 M816.2,312.5 812.5,307.5 813.1,301.9 817.5,298.1 823.8,295 831.2,295.6 837.5,298.1 843.8,296.9 850,297.5 853.8,293.8 852.5,288.8 855,285 862.5,283.1 870,281.2 877.5,280 882.5,283.8 890,286.9 896.9,284.4 900,286.9 903.8,292.5 907.5,297.5 912.5,299.4 918.8,301.9 925,304.4 930,302.5 936.2,299.4 942.5,299.4 947.5,301.9 M980,302.5 986.2,304.4 992.5,303.1 998.8,301.2 1005,302.5 1007.5,300 1011.2,296.2 1015,291.2 1018.8,288.8 1026.2,288.8 1031.2,290.6 1033.8,295 1036.2,300 1040,304.4 1045,308.1 1050,310 1055.6,310 1055,313.8 1051.2,317.5 1049.4,321.2 1047.5,325 1045,328.8 M797.5,327.5 803.8,328.8 810,330.6 815,333.1 819.5,334.4 M821.2,373.1 818.8,370 815,365 812.5,358.8 810,353.8 806.2,348.8 805,346.2 800,346.9 792.5,347.5 785,348.1 M423.4,312.2 501.2,310.9 M544.4,325.3 550,322.5 557.5,319.7 560,316.2 M440.3,361 450.6,363.4 461.9,365.3 467.5,364 474.1,369.1 478.8,370 484.4,374.7 489.1,379.4 M505,412.6 507.8,409.4 510.6,405.6 512.5,405.6 M512.5,405.6 514.4,410.3 520,412.2 525.6,410.3 M516.3,417.3 520,414.1 527.5,415 M523.8,424.8 526.6,420.6 M535,430.4 535,426.3"/>
</svg>
<h1 class="title"><u>バイオ</u>除草剤市場<u>の</u>成長影響分析、地域別<b>(2026—2035<i>年</i>)</b></h1>
<div class="lg" style="top:320px;background:#BF9000"></div><div class="lt" style="top:316.5px">中位</div>
<div class="lg" style="top:367.5px;background:#FFC000"></div><div class="lt" style="top:364px">高い</div>
<div class="lg" style="top:415px;background:#F8DC62"></div><div class="lt" style="top:411.5px">低い</div>
<div class="src"><span style="margin-right:12px;letter-spacing:1.5px">ソース</span><span style="margin-right:-2px">: </span><span style="letter-spacing:-.3px">SDKI </span><span style="letter-spacing:.5px">Analytics </span><span style="letter-spacing:2px">分析</span></div>
<div class="psh" style="left:950px;top:315px"></div>
<div class="psh" style="left:574px;top:464px"></div>
<div class="pill" style="left:435px;top:226px;width:134px;height:35px;box-shadow:1px 10px 7px -5px rgba(0,0,0,.32)">北米</div>
<div class="pill" style="left:677px;top:262px;width:98px;height:35px">ヨーロッパ</div>
<div class="pill" style="left:905px;top:326px;width:116px;height:35px">アジア太平洋<br>地域</div>
<div class="pill" style="left:739px;top:425px;width:119px;height:56px;box-shadow:9px 11px 7px -4px rgba(0,0,0,.38)">中東<br>とアフリカ</div>
<div class="pill" style="left:514px;top:477px;width:146px;height:35px">ラテンアメリカ</div>
<svg class="pin" style="left:482.75px;top:174.00px" width="40.5" height="49.4" viewBox="0 0 40.5 49.4"><path fill="#263470" d="M20.25 0C9.07 0 0 8.9 0 19.9c0 7.6 4.6 13.3 9.6 18.4L20.25 49.4 30.9 38.3c5-5.1 9.6-10.8 9.6-18.4C40.5 8.9 31.43 0 20.25 0z"/><circle cx="20.25" cy="20.2" r="10.1" fill="#fff"/></svg><svg class="pin" style="left:705.15px;top:198.40px" width="40.5" height="49.4" viewBox="0 0 40.5 49.4"><path fill="#263470" d="M20.25 0C9.07 0 0 8.9 0 19.9c0 7.6 4.6 13.3 9.6 18.4L20.25 49.4 30.9 38.3c5-5.1 9.6-10.8 9.6-18.4C40.5 8.9 31.43 0 20.25 0z"/><circle cx="20.25" cy="20.2" r="10.1" fill="#fff"/></svg><svg class="pin" style="left:944.15px;top:264.40px" width="40.5" height="49.4" viewBox="0 0 40.5 49.4"><path fill="#263470" d="M20.25 0C9.07 0 0 8.9 0 19.9c0 7.6 4.6 13.3 9.6 18.4L20.25 49.4 30.9 38.3c5-5.1 9.6-10.8 9.6-18.4C40.5 8.9 31.43 0 20.25 0z"/><circle cx="20.25" cy="20.2" r="10.1" fill="#fff"/></svg><svg class="pin" style="left:776.75px;top:371.50px" width="40.5" height="49.4" viewBox="0 0 40.5 49.4"><path fill="#263470" d="M20.25 0C9.07 0 0 8.9 0 19.9c0 7.6 4.6 13.3 9.6 18.4L20.25 49.4 30.9 38.3c5-5.1 9.6-10.8 9.6-18.4C40.5 8.9 31.43 0 20.25 0z"/><circle cx="20.25" cy="20.2" r="10.1" fill="#fff"/></svg><svg class="pin" style="left:566.15px;top:413.70px" width="40.5" height="49.4" viewBox="0 0 40.5 49.4"><path fill="#263470" d="M20.25 0C9.07 0 0 8.9 0 19.9c0 7.6 4.6 13.3 9.6 18.4L20.25 49.4 30.9 38.3c5-5.1 9.6-10.8 9.6-18.4C40.5 8.9 31.43 0 20.25 0z"/><circle cx="20.25" cy="20.2" r="10.1" fill="#fff"/></svg>
<div class="foot"><div class="f1">www.sdki.jp | +81-505-050-9337| info@sdki.jp</div><div class="f2"><span style="left:0">SDKI (</span><span class="c" style="left:76.5px">渋谷データ</span><span class="c o" style="left:213.5px">カウント</span><span class="c" style="left:307.5px">)</span></div></div>
</body></html>
